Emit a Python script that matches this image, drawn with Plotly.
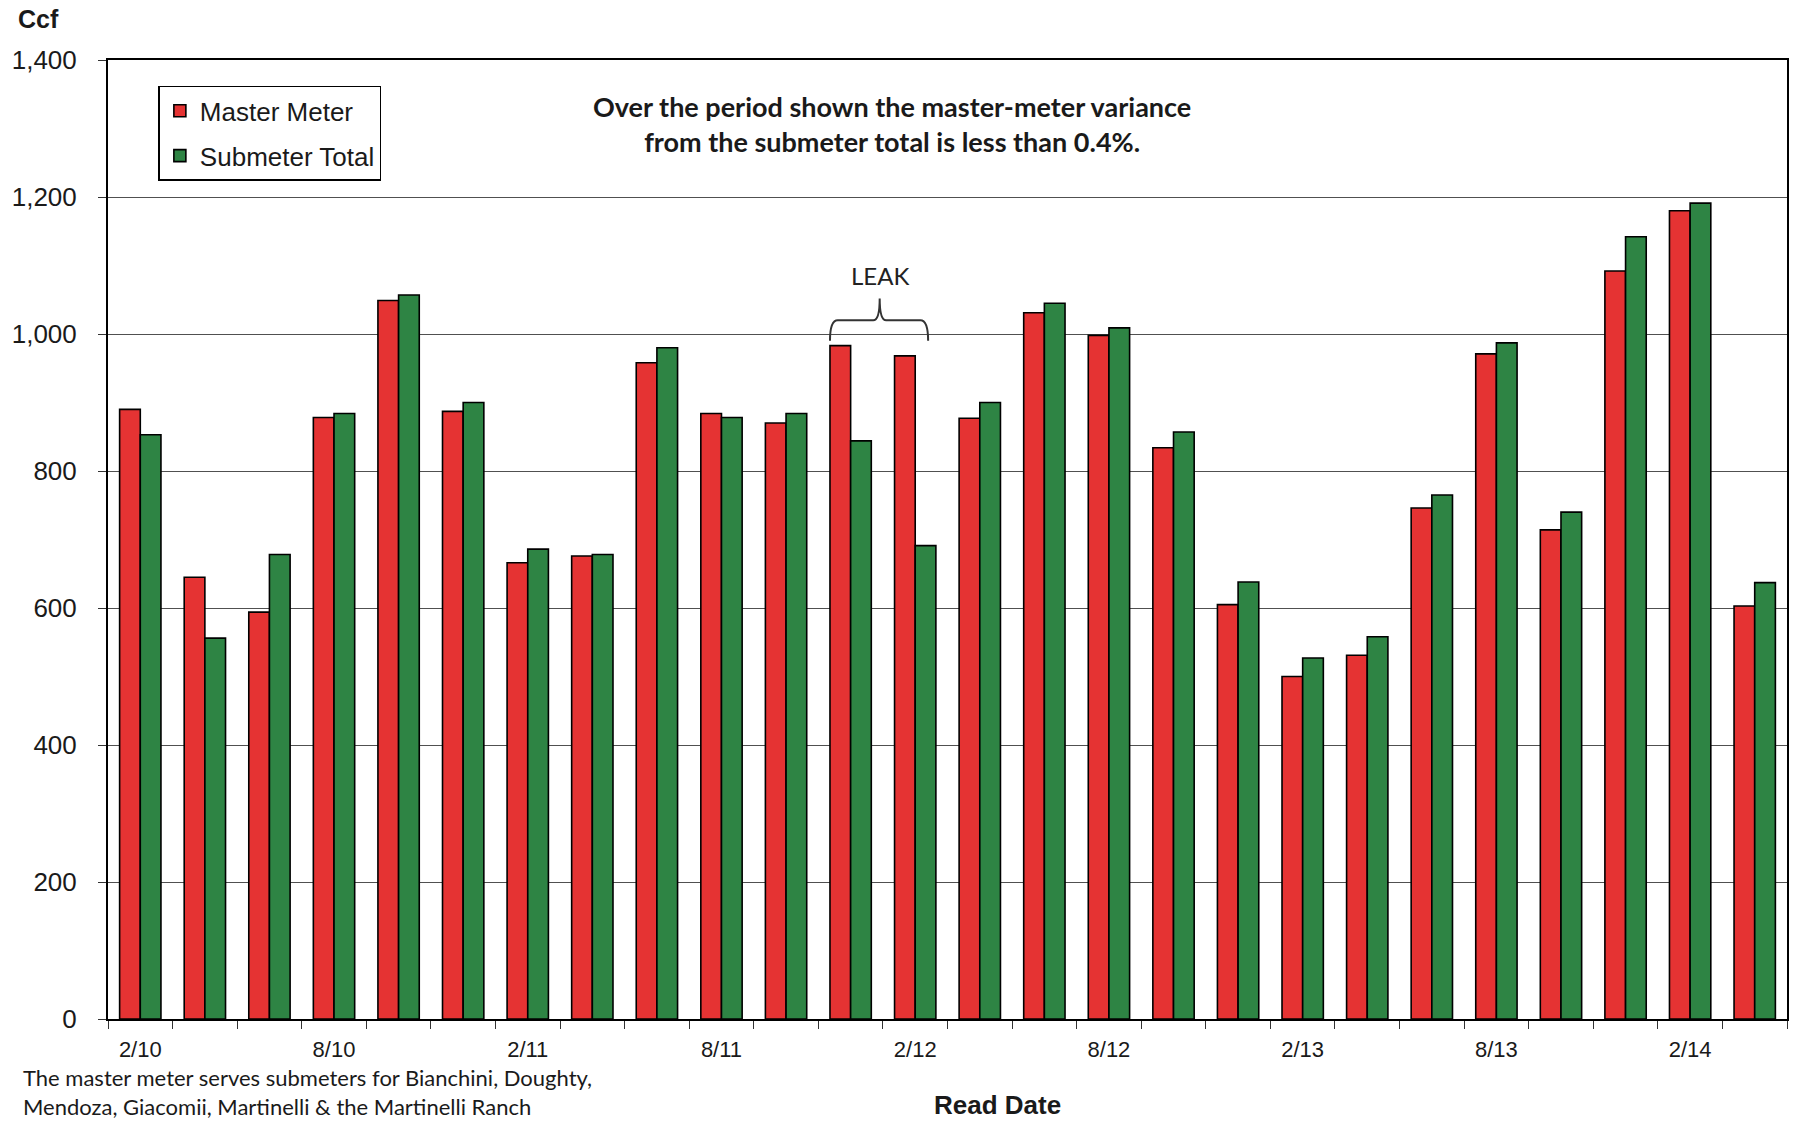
import plotly.graph_objects as go

# Bimonthly read dates, Feb 2010 through Apr 2014
read_dates = [
    "2/10", "4/10", "6/10", "8/10", "10/10", "12/10",
    "2/11", "4/11", "6/11", "8/11", "10/11", "12/11",
    "2/12", "4/12", "6/12", "8/12", "10/12", "12/12",
    "2/13", "4/13", "6/13", "8/13", "10/13", "12/13",
    "2/14", "4/14",
]

# Usage per read period (Ccf)
master_meter = [890, 645, 594, 878, 1049, 887, 666, 676, 958, 884, 870, 983, 968,
                877, 1031, 998, 834, 605, 500, 531, 746, 971, 714, 1092, 1180, 603]
submeter_total = [853, 556, 678, 884, 1057, 900, 686, 678, 980, 878, 884, 844, 691,
                  900, 1045, 1009, 857, 638, 527, 558, 765, 987, 740, 1142, 1191, 637]

# Only every third read date carries a label
tick_text = [d if i % 3 == 0 else "" for i, d in enumerate(read_dates)]

y_ticks = [0, 200, 400, 600, 800, 1000, 1200, 1400]

RED = "#E53333"
GREEN = "#2E8444"
ARIAL = "Liberation Sans, Arial, sans-serif"
CALIBRI = "Lato, Open Sans, sans-serif"

fig = go.Figure()
fig.add_trace(go.Bar(
    x=read_dates, y=master_meter, name="Master Meter", legendgroup="master",
    marker=dict(color=RED, line=dict(color="black", width=1.6)),
))
fig.add_trace(go.Bar(
    x=read_dates, y=submeter_total, name="Submeter Total", legendgroup="sub",
    marker=dict(color=GREEN, line=dict(color="black", width=1.6)),
))

# Brace over the two leak periods
x0, xm, x1 = 10.68, 11.45, 12.2
yb, yh, yt = 990, 1020, 1052
brace = (f"M {x0},{yb} Q {x0},{yh} {x0 + 0.12},{yh} L {xm - 0.1},{yh} "
         f"Q {xm},{yh} {xm},{yt} Q {xm},{yh} {xm + 0.1},{yh} "
         f"L {x1 - 0.12},{yh} Q {x1},{yh} {x1},{yb}")
fig.add_shape(type="path", path=brace, xref="x", yref="y",
              line=dict(color="#333333", width=2))

fig.add_annotation(x=11.45, y=1085, xref="x", yref="y", text="LEAK",
                   showarrow=False, yanchor="middle",
                   font=dict(family=CALIBRI, size=24, color="#222222"))

fig.add_annotation(
    x=0.467, y=0.933, xref="paper", yref="paper", yanchor="middle",
    text="<b>Over the period shown the master-meter variance<br>"
         "from the submeter total is less than 0.4%.</b>",
    showarrow=False, align="center",
    font=dict(family=CALIBRI, size=27, color="#1a1a1a"),
)

fig.add_annotation(
    x=-0.055, y=1.043, xref="paper", yref="paper", xanchor="left", yanchor="middle",
    text="<b>Ccf</b>", showarrow=False,
    font=dict(family=ARIAL, size=25, color="#1a1a1a"),
)

fig.add_annotation(
    x=0.530, y=-0.090, xref="paper", yref="paper", yanchor="middle",
    text="<b>Read Date</b>", showarrow=False,
    font=dict(family=ARIAL, size=26, color="#1a1a1a"),
)

fig.add_annotation(
    x=-0.052, y=-0.076, xref="paper", yref="paper", xanchor="left", yanchor="middle",
    align="left", showarrow=False,
    text="The master meter serves submeters for Bianchini, Doughty,<br>"
         "Mendoza, Giacomii, Martinelli &amp; the Martinelli Ranch",
    font=dict(family=CALIBRI, size=22, color="#1a1a1a"),
)

fig.update_layout(
    width=1797, height=1122,
    margin=dict(l=108, r=8, t=60, b=103),
    paper_bgcolor="white", plot_bgcolor="white",
    barmode="group", bargap=0.36, bargroupgap=0.0,
    showlegend=True,
    legend=dict(
        x=0.030, y=0.973, xanchor="left", yanchor="top",
        bgcolor="white", bordercolor="black", borderwidth=1.5,
        font=dict(family=ARIAL, size=26, color="#1a1a1a"),
        itemwidth=30, tracegroupgap=8,
    ),
    xaxis=dict(
        type="category",
        tickmode="array", tickvals=read_dates, ticktext=tick_text,
        tickson="boundaries", ticks="outside", ticklen=8, tickcolor="#333333",
        tickfont=dict(family=ARIAL, size=22, color="#1a1a1a"),
        ticklabelstandoff=10,
        showline=True, linecolor="black", linewidth=2, mirror=True,
        showgrid=False,
    ),
    yaxis=dict(
        range=[0, 1400], tickvals=y_ticks, tickformat=",d",
        ticks="outside", ticklen=8, tickcolor="#333333",
        tickfont=dict(family=ARIAL, size=26, color="#1a1a1a"),
        ticklabelstandoff=16,
        showline=True, linecolor="black", linewidth=2, mirror=True,
        showgrid=True, gridcolor="#505050", gridwidth=1.4,
        zeroline=False,
    ),
)

fig.write_html("out.html")
